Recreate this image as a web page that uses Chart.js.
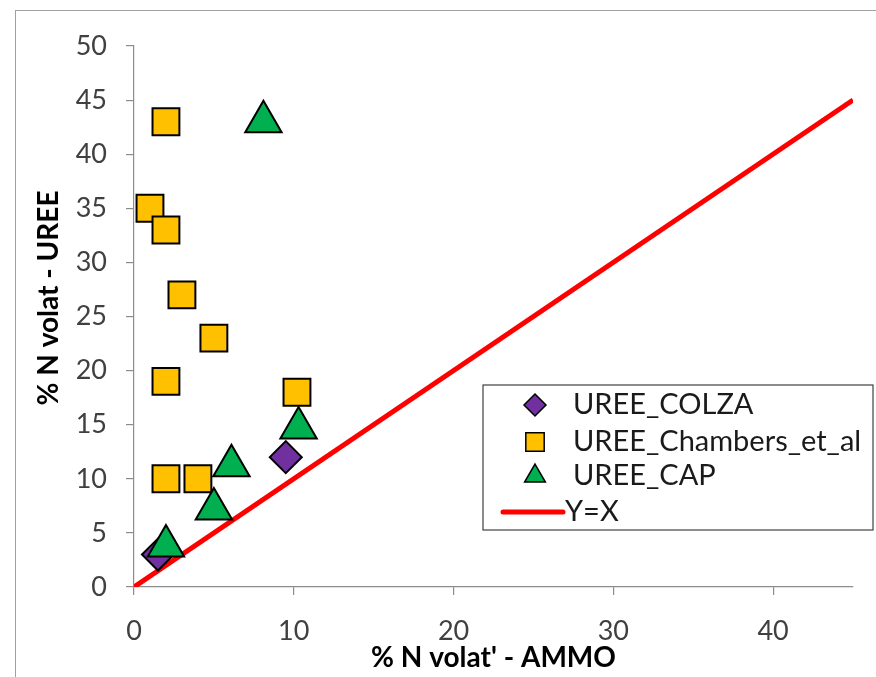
<!DOCTYPE html>
<html>
<head>
<meta charset="utf-8">
<script src="https://cdn.jsdelivr.net/npm/chart.js@4.4.1/dist/chart.umd.min.js"></script>
<style>
  html, body { margin: 0; padding: 0; background: #fff; }
  #wrap { position: relative; width: 876px; height: 677px; overflow: hidden; }
  #frame { position: absolute; left: 15px; top: 10px; width: 900px; height: 720px; border: 1.5px solid #a0a0a0; }
  #c { position: absolute; left: 0; top: 0; }
</style>
</head>
<body>
<div id="wrap">
  <div id="frame"></div>
  <canvas id="c" width="876" height="677"></canvas>
</div>
<script>
(function () {
  'use strict';

  // series values
  var colzaX = [9.5, 1.5];
  var colzaY = [12, 3];

  var chambersX = [2, 1, 2, 3, 5, 2, 10.2, 2, 4];
  var chambersY = [43, 35, 33, 27, 23, 19, 18, 10, 10];

  var capX = [8.1, 10.3, 6.1, 5, 2];
  var capY = [43, 14.7, 11.2, 7.2, 3.8];

  var refX = [0, 45];
  var refY = [0, 45];

  var seriesLabels = ['UREE_COLZA', 'UREE_Chambers_et_al', 'UREE_CAP', 'Y=X'];

  var xTicks = [0, 10, 20, 30, 40];
  var yTicks = [0, 5, 10, 15, 20, 25, 30, 35, 40, 45, 50];

  var xTitle = "% N volat' - AMMO";
  var yTitle = '% N volat - UREE';

  var FONT = 'Lato, "Liberation Sans", sans-serif';

  function pts(xs, ys) {
    return xs.map(function (x, i) {
      return { x: x, y: ys[i] };
    });
  }

  // y title sits a bit above the plot centre in the original, so draw it by hand
  var yTitlePlugin = {
    id: 'yTitle',
    afterDraw: function (chart) {
      var ctx = chart.ctx;
      ctx.save();
      ctx.translate(49, 298);
      ctx.rotate(-Math.PI / 2);
      ctx.fillStyle = '#000';
      ctx.font = 'bold 28px ' + FONT;
      ctx.textAlign = 'center';
      ctx.textBaseline = 'middle';
      ctx.fillText(yTitle, 0, 0);
      ctx.restore();
    },
  };

  var legendPlugin = {
    id: 'boxLegend',
    afterDraw: function (chart) {
      var ctx = chart.ctx;
      var box = { left: 483, top: 385, right: 873, bottom: 530 };
      ctx.save();
      ctx.fillStyle = '#fff';
      ctx.fillRect(box.left, box.top, box.right - box.left, box.bottom - box.top);
      ctx.strokeStyle = '#404040';
      ctx.lineWidth = 1.2;
      ctx.strokeRect(box.left, box.top, box.right - box.left, box.bottom - box.top);

      var rowY = [405, 442, 476, 512];
      var markX = 535;
      chart.data.datasets.forEach(function (ds, i) {
        var y = rowY[i];
        if (ds.type === 'line') {
          ctx.strokeStyle = ds.borderColor;
          ctx.lineWidth = 5;
          ctx.lineCap = 'round';
          ctx.beginPath();
          ctx.moveTo(503, y);
          ctx.lineTo(563, y);
          ctx.stroke();
        } else {
          ctx.fillStyle = ds.backgroundColor;
          ctx.strokeStyle = '#000';
          ctx.lineWidth = 1.5;
          Chart.helpers.drawPoint(ctx, {
            pointStyle: ds.pointStyle,
            radius: ds.legendRadius,
            rotation: 0,
            borderWidth: 1.5,
          }, markX, y);
        }
        ctx.fillStyle = '#1a1a1a';
        ctx.font = '29px ' + FONT;
        ctx.textBaseline = 'middle';
        ctx.textAlign = 'left';
        ctx.fillText(ds.label, ds.type === 'line' ? 565 : 573, y);
      });
      ctx.restore();
    },
  };

  new Chart(document.getElementById('c'), {
    type: 'scatter',
    data: {
      datasets: [
        {
          label: seriesLabels[0],
          data: pts(colzaX, colzaY),
          pointStyle: 'rectRot',
          pointRadius: 16,
          legendRadius: 11,
          backgroundColor: '#7030A0',
          borderColor: '#000',
          borderWidth: 2,
          order: 3,
        },
        {
          label: seriesLabels[1],
          data: pts(chambersX, chambersY),
          pointStyle: 'rect',
          pointRadius: 19,
          legendRadius: 13,
          backgroundColor: '#FFC000',
          borderColor: '#000',
          borderWidth: 2,
          order: 2,
        },
        {
          label: seriesLabels[2],
          data: pts(capX, capY),
          pointStyle: 'triangle',
          pointRadius: 21,
          legendRadius: 12,
          backgroundColor: '#00B050',
          borderColor: '#000',
          borderWidth: 2,
          order: 1,
        },
        {
          type: 'line',
          label: seriesLabels[3],
          data: pts(refX, refY),
          borderColor: '#FF0000',
          borderWidth: 5,
          pointRadius: 0,
          fill: false,
          order: 4,
        },
      ],
    },
    options: {
      responsive: false,
      animation: false,
      layout: { padding: { left: 0, right: 15, top: 46, bottom: 2 } },
      plugins: {
        legend: { display: false },
        tooltip: { enabled: false },
      },
      scales: {
        x: {
          type: 'linear',
          min: 0,
          max: 45,
          afterFit: function (s) { s.height = 88; },
          afterBuildTicks: function (s) {
            s.ticks = xTicks.map(function (v) { return { value: v }; });
          },
          grid: { drawOnChartArea: false, drawTicks: true, tickLength: 8, color: '#8c8c8c', lineWidth: 1.2 },
          border: { color: '#8c8c8c', width: 1.2 },
          ticks: { padding: 20, color: '#404040', font: { family: FONT, size: 27 } },
          title: {
            display: true,
            text: xTitle,
            color: '#000',
            padding: { top: 0, bottom: 0 },
            font: { family: FONT, size: 28, weight: 'bold' },
          },
        },
        y: {
          type: 'linear',
          min: 0,
          max: 50,
          afterFit: function (s) { s.width = 134; },
          afterBuildTicks: function (s) {
            s.ticks = yTicks.map(function (v) { return { value: v }; });
          },
          grid: { drawOnChartArea: false, drawTicks: true, tickLength: 8, color: '#8c8c8c', lineWidth: 1.2 },
          border: { color: '#8c8c8c', width: 1.2 },
          ticks: { padding: 19, color: '#404040', font: { family: FONT, size: 27 } },
        },
      },
    },
    plugins: [yTitlePlugin, legendPlugin],
  });
})();
</script>
</body>
</html>
